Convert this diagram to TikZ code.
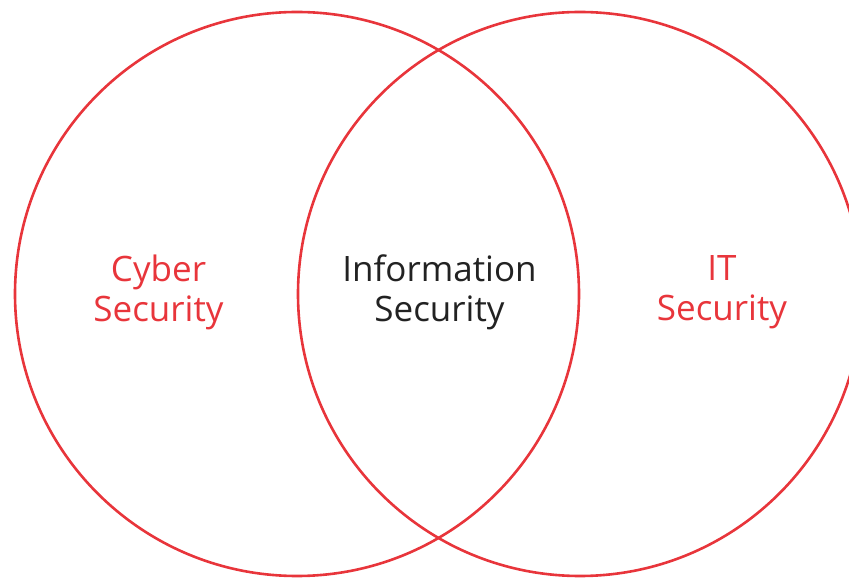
\documentclass[tikz,border=0pt]{standalone}
\usepackage{fontspec}
\setmainfont{Open Sans}
\definecolor{vennred}{HTML}{E8353B}
\definecolor{venntext}{HTML}{222222}
\tikzstyle{set}=[draw=vennred, line width=2.6pt, circle, minimum size=564pt, inner sep=0pt]
\tikzstyle{set label}=[align=center, font=\fontsize{35}{40}\selectfont, inner sep=0pt]
\tikzstyle{outer label}=[set label, text=vennred]
\tikzstyle{inner label}=[set label, text=venntext]

\begin{document}
\begin{tikzpicture}[x=1pt, y=1pt]
      \useasboundingbox (0, 0) rectangle (849, 579);
      \clip (0, 0) rectangle (849, 579);
      \node[set] (cyber) at (297, 285) {};
      \node[set] (it) at (580, 285) {};
      \node[outer label] (cyber_label) at (158.5, 287) {Cyber\\Security};
      \node[inner label] (info_label) at (439.5, 287) {Information\\Security};
      \node[outer label] (it_label) at (722, 287) {IT\\Security};
    \end{tikzpicture}
\end{document}
